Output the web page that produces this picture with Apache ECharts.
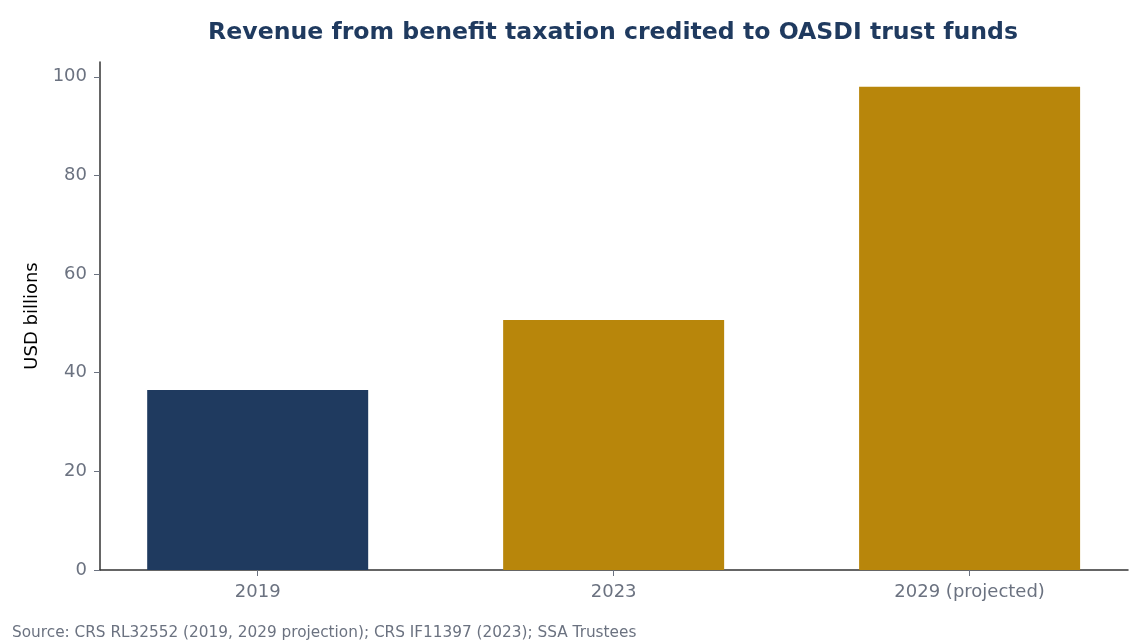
<!DOCTYPE html>
<html>
<head>
<meta charset="utf-8">
<script src="https://cdn.jsdelivr.net/npm/echarts@6/dist/echarts.min.js"></script>
<style>
  html, body { margin: 0; padding: 0; background: #fff; }
  #chart { width: 1148px; height: 644px; }
</style>
</head>
<body>
<div id="chart"></div>
<script>
const categories = ["2019", "2023", "2029 (projected)"];
const revenue = [36.5, 50.7, 98.0];
const barColors = ["#1f3a5f", "#b8860b", "#b8860b"];
const yTicks = [0, 20, 40, 60, 80, 100];

const font = "'DejaVu Sans'";
const labelGray = "#6b7280";

const chart = echarts.init(document.getElementById("chart"));

const option = {
  animation: false,
  title: {
    text: "Revenue from benefit taxation credited to OASDI trust funds",
    left: 608,
    textAlign: "center",
    top: 16,
    textStyle: { fontFamily: font, fontSize: 23.6, fontWeight: "bold", color: "#1f3a5f" }
  },
  graphic: [{
    type: "text",
    left: 12,
    top: 626,
    style: {
      text: "Source: CRS RL32552 (2019, 2029 projection); CRS IF11397 (2023); SSA Trustees",
      font: "15.3px " + font,
      fill: labelGray
    }
  }],
  grid: { left: 100, right: 20, top: 62, bottom: 74 },
  xAxis: {
    type: "value",
    min: -0.443,
    max: 2.445,
    splitLine: { show: false },
    axisLine: { show: true, onZero: false, lineStyle: { color: "#333", width: 1.5 } },
    axisTick: { show: true, length: 6, customValues: [0, 1, 2], lineStyle: { color: labelGray } },
    axisLabel: {
      customValues: [0, 1, 2],
      formatter: v => categories[Math.round(v)],
      fontFamily: font, fontSize: 18, color: labelGray, margin: 13
    }
  },
  yAxis: {
    type: "value",
    min: 0,
    max: 103,
    name: "USD billions",
    nameLocation: "middle",
    nameGap: 56,
    nameTextStyle: { fontFamily: font, fontSize: 18, color: "#000" },
    splitLine: { show: false },
    axisLine: { show: true, onZero: false, lineStyle: { color: "#333", width: 1.5 } },
    axisTick: { show: true, length: 6, customValues: yTicks, lineStyle: { color: labelGray } },
    axisLabel: {
      customValues: yTicks,
      fontFamily: font, fontSize: 18, color: labelGray, margin: 13
    }
  },
  series: [{
    type: "bar",
    barWidth: 221,
    data: revenue.map((v, i) => ({ value: [i, v], itemStyle: { color: barColors[i] } }))
  }]
};

chart.setOption(option);
</script>
</body>
</html>
